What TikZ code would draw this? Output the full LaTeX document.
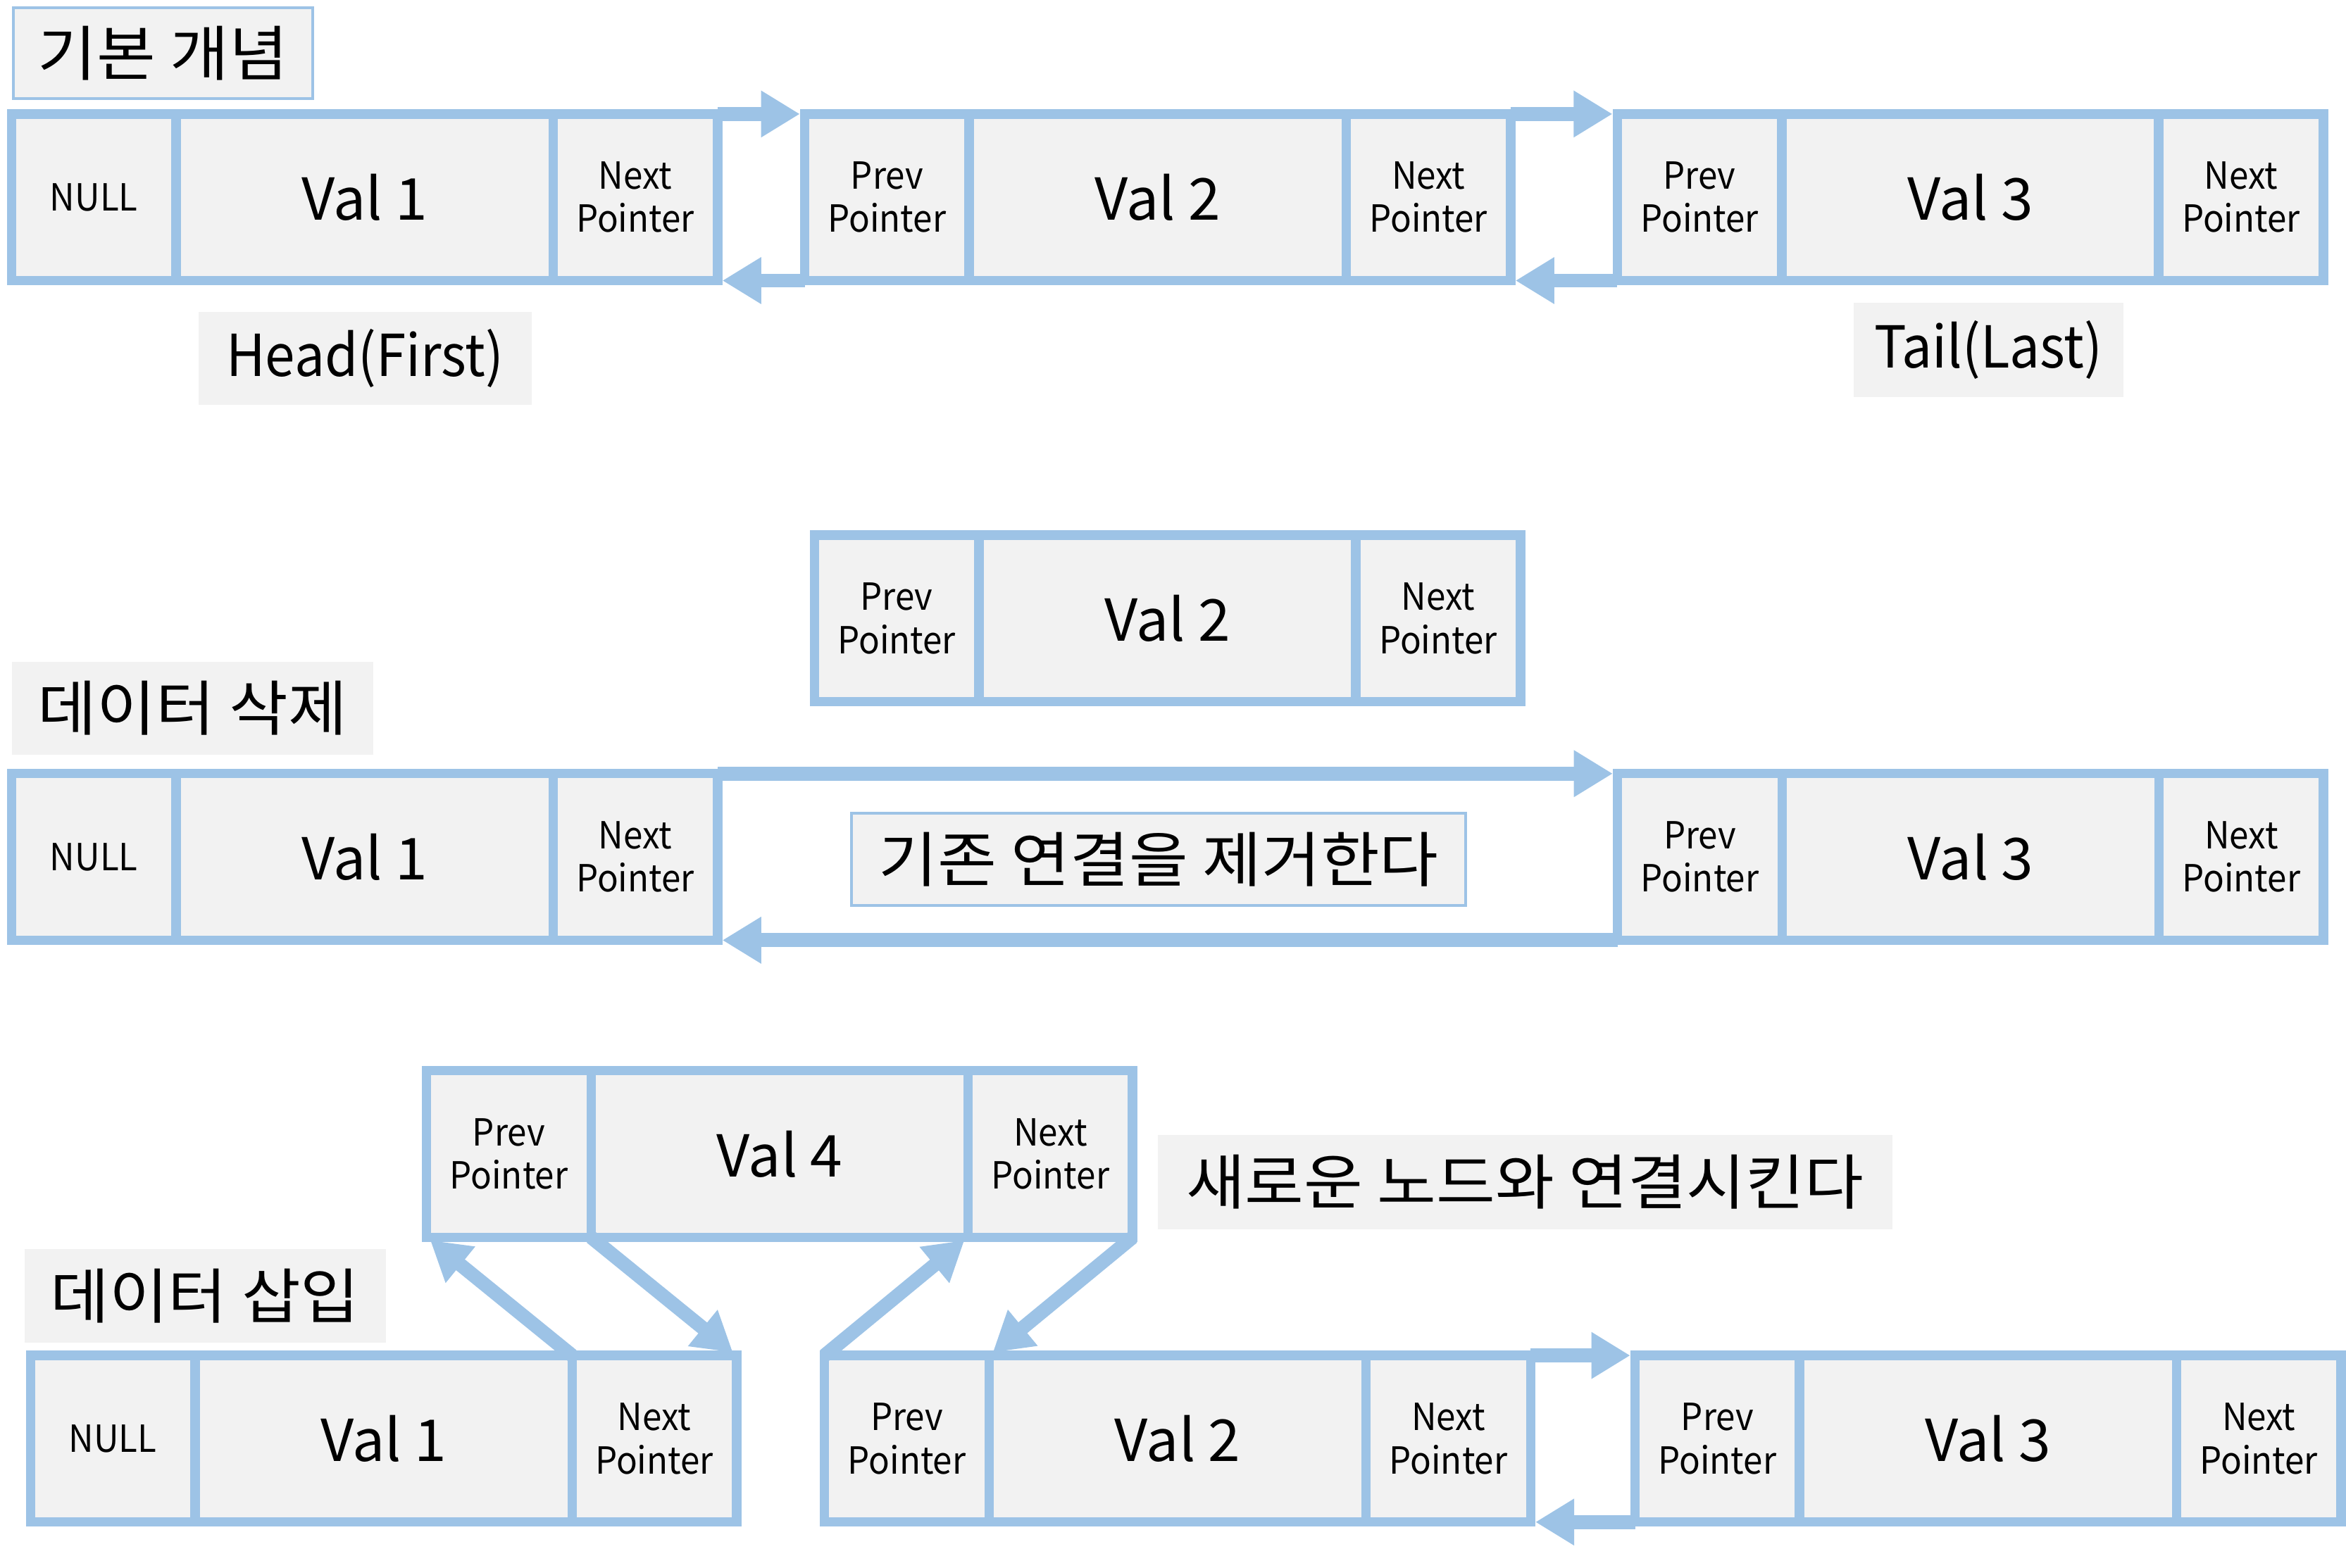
\documentclass[tikz,border=0pt]{standalone}
\usepackage{fontspec}
\setmainfont{Noto Sans CJK KR}
\newfontfamily\narrowfont{Noto Sans CJK KR}[FakeStretch=0.93]
\newfontfamily\widefont{Noto Sans CJK KR}[FakeStretch=1.07]
\usetikzlibrary{positioning,arrows.meta}
\definecolor{boxblue}{HTML}{9DC3E6}
\definecolor{boxgray}{HTML}{F2F2F2}
\newcommand\dlnode[5]{% name, left x, middle y, first cell, value
  \node[ptr] (#1p) at (#2+55,#3) {#4};
  \node[val, right=0pt of #1p] (#1v) {#5};
  \node[ptr, right=0pt of #1v] (#1n) {Next\\Pointer};
}

\begin{document}
\begin{tikzpicture}[x=0.02cm, y=-0.02cm,
    cell/.style={draw=boxblue, fill=boxgray, line width=3.6pt, inner sep=0, outer sep=0, minimum height=2.228cm, align=center},
    ptr/.style={cell, minimum width=2.2cm, font=\narrowfont\fontsize{14.2}{16.4}\selectfont},
    val/.style={cell, minimum width=5.04cm, font=\fontsize{22}{26}\selectfont},
    link/.style={draw=boxblue, line width=5.3pt, -{Triangle[length=14.8pt,width=16.8pt]}, shorten >=1.8pt},
    heading/.style={fill=boxgray, inner sep=0, font=\widefont\fontsize{22.8}{27}\selectfont},
    latinhead/.style={heading, font=\narrowfont\fontsize{22}{26}\selectfont},
    framed/.style={heading, draw=boxblue, line width=1.1pt}]
  \useasboundingbox (0,0) rectangle (1568,1048);

  % basic concept
  \node[framed, minimum width=4cm, minimum height=1.22cm] (basic) at (109,35.6) {기본 개념};
  \dlnode{a}{7.7}{131.9}{NULL}{Val 1}
  \dlnode{b}{537.8}{131.9}{Prev\\Pointer}{Val 2}
  \dlnode{c}{1080.9}{131.9}{Prev\\Pointer}{Val 3}
  \draw[link] (an.north east) -- (bp.north west);
  \draw[link] (bp.south west) -- (an.south east);
  \draw[link] (bn.north east) -- (cp.north west);
  \draw[link] (cp.south west) -- (bn.south east);
  \node[latinhead, minimum width=4.46cm, minimum height=1.24cm] (head) at (244,239.7) {Head(First)};
  \node[latinhead, minimum width=3.612cm, minimum height=1.26cm] (tail) at (1329,233.9) {Tail(Last)};

  % delete
  \node[heading, minimum width=4.834cm, minimum height=1.248cm] (deltitle) at (128.8,473.6) {데이터 삭제};
  \dlnode{e}{544.3}{413.5}{Prev\\Pointer}{Val 2}
  \dlnode{d}{7.7}{572.9}{NULL}{Val 1}
  \dlnode{f}{1081.1}{572.9}{Prev\\Pointer}{Val 3}
  \draw[link] (dn.north east) -- (fp.north west);
  \draw[link] (fp.south west) -- (dn.south east);
  \node[framed, minimum width=8.21cm, minimum height=1.234cm] (remove) at (774.5,574.4) {기존 연결을 제거한다};

  % insert
  \node[heading, minimum width=4.83cm, minimum height=1.256cm] (institle) at (137,866.5) {데이터 삽입};
  \dlnode{h}{285.1}{771.5}{Prev\\Pointer}{Val 4}
  \node[heading, minimum width=9.82cm, minimum height=1.256cm] (connect) at (1019.2,790.3) {새로운 노드와 연결시킨다};
  \dlnode{g}{20.4}{961.9}{NULL}{Val 1}
  \dlnode{i}{551.1}{961.9}{Prev\\Pointer}{Val 2}
  \dlnode{j}{1092.8}{961.9}{Prev\\Pointer}{Val 3}
  \draw[link] (gn.north west) -- (hp.south west);
  \draw[link] (hp.south east) -- (gn.north east);
  \draw[link] (ip.north west) -- (hv.south east);
  \draw[link] (hn.south east) -- (ip.north east);
  \draw[link] (in.north east) -- (jp.north west);
  \draw[link] (jp.south west) -- (in.south east);
\end{tikzpicture}
\end{document}
